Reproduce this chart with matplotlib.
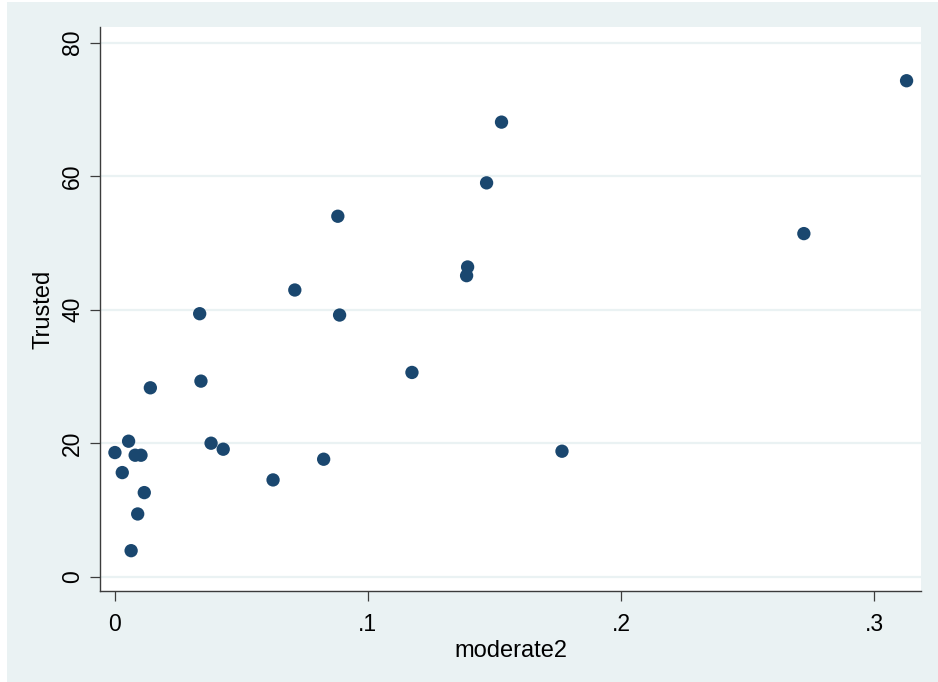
import numpy as np
import matplotlib.pyplot as plt
from matplotlib.patches import Rectangle

# values
moderate2 = [0.0, 0.0029, 0.0054, 0.0064, 0.0080, 0.0103, 0.0090, 0.0116,
             0.0140, 0.0335, 0.0340, 0.0380, 0.0428, 0.0625, 0.0711, 0.0825,
             0.0881, 0.0888, 0.1174, 0.1394, 0.1390, 0.1469, 0.1528, 0.1767,
             0.2723, 0.3129]
trusted = [18.6, 15.6, 20.3, 3.9, 18.2, 18.2, 9.4, 12.6,
           28.3, 39.4, 29.3, 20.0, 19.1, 14.5, 42.95, 17.6,
           54.0, 39.2, 30.6, 46.4, 45.1, 59.0, 68.1, 18.8,
           51.4, 74.3]

x_ticks = [0, 0.1, 0.2, 0.3]
x_ticklabels = ['0', '.1', '.2', '.3']
y_ticks = [0, 20, 40, 60, 80]

bg = '#EAF2F3'
navy = '#1A476F'
axis_col = '#3C3C3C'

plt.rcParams['font.family'] = ['Liberation Sans', 'DejaVu Sans']

W, H = 938, 682
fig = plt.figure(figsize=(W / 100, H / 100), dpi=100, facecolor=bg)
# thin white margin on the left and top edges
fig.add_artist(Rectangle((0, 0), 7 / W, 1, transform=fig.transFigure,
                         facecolor='white', edgecolor='none', zorder=-10))
fig.add_artist(Rectangle((0, 1 - 2 / H), 1, 2 / H, transform=fig.transFigure,
                         facecolor='white', edgecolor='none', zorder=-10))

ax = fig.add_axes([100 / W, 1 - 591 / H, (921 - 100) / W, (591 - 27) / H])
ax.set_facecolor('white')
ax.set_zorder(1)

for yt in y_ticks:
    ax.axhline(yt, color=bg, lw=1.6, zorder=1)

ax.scatter(moderate2, trusted, s=92, color=navy, edgecolors='none', zorder=3)

ax.set_xlim(-0.0059, 0.3186)
ax.set_ylim(-2.14, 82.35)

ax.set_xticks(x_ticks)
ax.set_xticklabels(x_ticklabels)
ax.set_yticks(y_ticks)
ax.set_yticklabels([str(v) for v in y_ticks], rotation=90, va='center')

for side in ['top', 'right']:
    ax.spines[side].set_visible(False)
for side in ['left', 'bottom']:
    ax.spines[side].set_color(axis_col)
    ax.spines[side].set_linewidth(1.0)

ax.tick_params(axis='both', direction='out', length=7.5, width=0.9,
               color=axis_col, labelsize=16.5, labelcolor='black')
ax.tick_params(axis='x', pad=8)
ax.tick_params(axis='y', pad=4)

ax.set_xlabel('moderate2', fontsize=17, labelpad=3)
ax.set_ylabel('Trusted', fontsize=17, labelpad=5)

fig.savefig('out.png', dpi=100, facecolor=bg)
